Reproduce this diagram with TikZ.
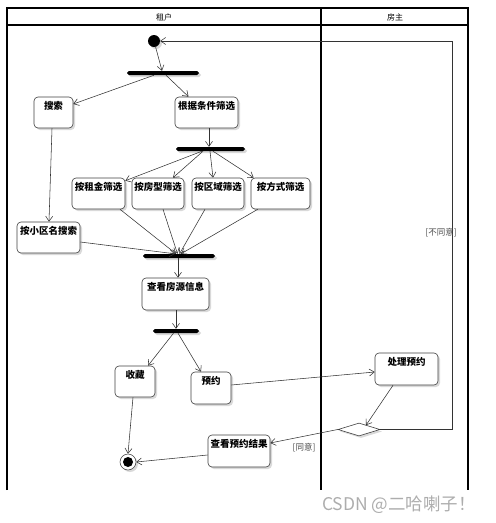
\documentclass[tikz,border=0pt]{standalone}
\usepackage{fontspec}
\setmainfont{Noto Sans CJK SC}
\usetikzlibrary{arrows.meta,shapes.geometric,shadows}
\begin{document}
\begin{tikzpicture}[x=1pt,y=-1pt,
 shad/.style={drop shadow={shadow xshift=2pt,shadow yshift=-2pt,fill=black!15,opacity=1}},
 box/.style={draw=black!75, line width=0.6pt, rounded corners=4pt, fill=white, shad,
   font=\bfseries\fontsize{9.5}{10}\selectfont, inner xsep=0pt, inner ysep=4pt,
   text height=8pt, text depth=15pt, minimum height=31pt},
 bar/.style={fill=black, rounded corners=1.8pt, minimum height=4pt, inner sep=0pt, shad},
 arr/.style={draw=black!80, line width=0.55pt, -{Straight Barb[length=5pt,width=7pt]}},
 guard/.style={font=\fontsize{8.5}{9}\selectfont, text=black!70},
 lane/.style={line width=1.2pt},
 head/.style={font=\fontsize{8}{9}\selectfont}
]
\useasboundingbox (0,0) rectangle (496,523);
% swimlanes
\draw[lane] (7,490) -- (7,8) -- (468,8) -- (468,490);
\draw[lane] (321,8) -- (321,490);
\draw[lane] (7,25) -- (468,25);
\node[head] (h1) at (164,17) {租户};
\node[head] (h2) at (395,17) {房主};
% nodes
\node[circle, fill=black, minimum size=12pt, inner sep=0pt, shad] (start) at (154,41) {};
\node[bar, minimum width=72pt] (bar1) at (163,73) {};
\node[box, minimum width=39pt] (sousuo) at (53.5,112.5) {搜索};
\node[box, minimum width=63pt] (gen) at (206.5,112.5) {根据条件筛选};
\node[bar, minimum width=69pt] (bar2) at (210.5,149) {};
\node[box, minimum width=53pt] (z1) at (98.5,193.5) {按租金筛选};
\node[box, minimum width=52pt] (z2) at (158,193.5) {按房型筛选};
\node[box, minimum width=52pt] (z3) at (218,193.5) {按区域筛选};
\node[box, minimum width=59pt] (z4) at (280.5,193.5) {按方式筛选};
\node[box, minimum width=63pt] (xq) at (48.5,237.5) {按小区名搜索};
\node[bar, minimum width=72pt] (bar3) at (179,256) {};
\node[box, minimum width=67pt, minimum height=32pt] (ck) at (175.5,294) {查看房源信息};
\node[bar, minimum width=46pt] (bar4) at (176,331) {};
\node[box, minimum width=40pt] (sc) at (135,381.5) {收藏};
\node[box, minimum width=40pt, minimum height=32pt] (yy) at (211,388) {预约};
\node[box, minimum width=63pt, minimum height=32pt] (cl) at (406.5,369) {处理预约};
\node[diamond, draw=black!75, fill=white, line width=0.6pt, minimum width=42pt, minimum height=13pt,
  inner sep=0pt, aspect=3.2, shad] (dia) at (359,429.5) {};
\node[box, minimum width=62pt, minimum height=32pt] (jg) at (239,451) {查看预约结果};
\node[circle, draw=black!80, fill=white, minimum size=16pt, inner sep=0pt, line width=0.5pt, shad,
  path picture={\fill[black] (path picture bounding box.center) circle (5pt);}] (end) at (128,462) {};
\coordinate (loop) at (452,41);
% edges
\draw[arr] (start) -- ([xshift=-1pt]bar1.north);
\draw[arr] ([xshift=-9pt]bar1.south) -- ([yshift=8.5pt]sousuo.east);
\draw[arr] ([xshift=3pt]bar1.south) -- ([xshift=-18pt]gen.north);
\draw[arr] ([xshift=2.5pt]gen.south) -- ([xshift=-1.5pt]bar2.north);
\draw[arr] ([xshift=-1.5pt]sousuo.south) -- ([xshift=0.5pt]xq.north);
\draw[arr] ([xshift=-8.5pt]bar2.south) -- ([yshift=-3pt]z1.north east);
\draw[arr] ([xshift=-7.5pt]bar2.south) -- ([xshift=15pt]z2.north);
\draw[arr] ([xshift=-0.5pt]bar2.south) -- ([xshift=-5pt]z3.north);
\draw[arr] ([xshift=2.5pt]bar2.south) -- ([xshift=3pt]z4.north west);
\draw[arr] ([xshift=21.5pt]z1.south) -- ([xshift=-3pt]bar3.north);
\draw[arr] ([xshift=5pt]z2.south) -- ([xshift=-1.5pt]bar3.north);
\draw[arr] ([xshift=-13pt]z3.south) -- ([xshift=0.5pt]bar3.north);
\draw[arr] ([xshift=7pt]z4.south west) -- ([xshift=2pt]bar3.north);
\draw[arr] ([yshift=-4.5pt]xq.east) -- ([xshift=-4pt]bar3.north);
\draw[arr] ([xshift=-1pt]bar3.south) -- ([xshift=2.5pt]ck.north);
\draw[arr] ([xshift=0.5pt]ck.south) -- (bar4.north);
\draw[arr] ([xshift=-2.5pt]bar4.south) -- ([xshift=13pt]sc.north);
\draw[arr] ([xshift=2pt]bar4.south) -- ([xshift=-10pt]yy.north);
\draw[arr] ([yshift=3pt]yy.east) -- ([yshift=-3pt]cl.west);
\draw[arr] ([xshift=-13.5pt]cl.south) -- ([xshift=7pt,yshift=4.3pt]dia.center);
\draw[arr] (dia.west) -- ([yshift=8pt]jg.east) node[guard, pos=0.5, below=3pt] {[同意]};
\draw[arr] ([yshift=-4pt]jg.west) -- (end.east);
\draw[arr] ([xshift=-2pt]sc.south) -- (end.north);
\draw[arr] (dia.east) -| (loop) -- (start.east);
\node[guard] (bty) at (441,233) {[不同意]};
% watermark
\node[text=black!32, font=\fontsize{17.5}{19}\selectfont] (wm) at (399,505) {CSDN @二哈喇子！};
\end{tikzpicture}
\end{document}
